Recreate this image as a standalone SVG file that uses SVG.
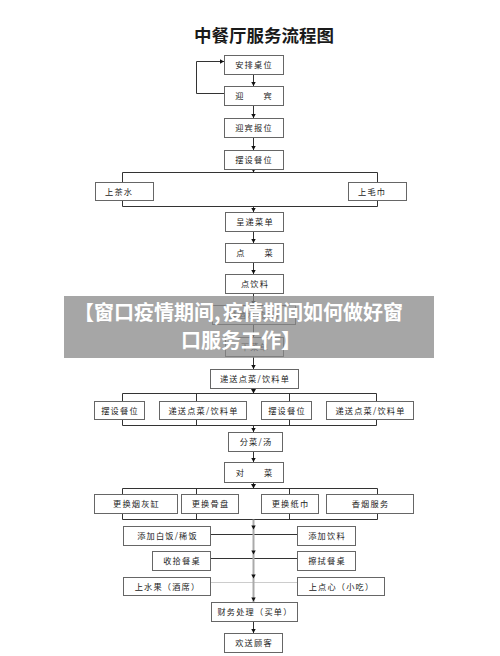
<svg xmlns="http://www.w3.org/2000/svg" width="500" height="656" viewBox="0 0 500 656">
<defs>
<style>
.b{fill:#fff;stroke:#666;stroke-width:1}
.t{font-family:"Noto Sans CJK SC","Noto Sans",sans-serif;font-size:8.2px;letter-spacing:1.2px;fill:#222;text-anchor:middle}
.ts{text-anchor:start}
.c{fill:none;stroke:#333;stroke-width:1}
.cl{fill:none;stroke:#ccc;stroke-width:1}
.ah{fill:#111}
.ov{font-family:"Noto Sans CJK SC","Noto Sans",sans-serif;font-size:20px;font-weight:700;fill:#fff}
</style>
<marker id="a" markerUnits="userSpaceOnUse" markerWidth="5" markerHeight="5" refX="4.5" refY="2.5" orient="auto">
<path d="M0,0 L4.5,2.5 L0,5 z" fill="#111"/>
</marker>
</defs>
<rect width="500" height="656" fill="#fff"/>
<text x="264" y="42" font-family="Noto Sans CJK SC,sans-serif" font-size="17.5" font-weight="700" fill="#1a1a1a" text-anchor="middle">中餐厅服务流程图</text>

<g id="connectors">
<path class="c" d="M253.5,74 V86" marker-end="url(#a)"/>
<path class="c" d="M224,93.5 H196.5 V61.5 H224" marker-end="url(#a)"/>
<path class="c" d="M253.5,105 V118" marker-end="url(#a)"/>
<path class="c" d="M253.5,137 V150" marker-end="url(#a)"/>
<path class="c" d="M253.5,169 V172.5" marker-end="url(#a)"/>
<path class="c" d="M122.5,182 V172.5 H377.5 V182"/>
<path class="c" d="M122.5,200 V206.5 H377.5 V200"/>
<path class="c" d="M253.5,206.5 V212" marker-end="url(#a)"/>
<path class="c" d="M253.5,231 V243" marker-end="url(#a)"/>
<path class="c" d="M253.5,262 V274" marker-end="url(#a)"/>
<path class="c" d="M253.5,293 V305" marker-end="url(#a)"/>
<path class="c" d="M253.5,324 V337" marker-end="url(#a)"/>
<path class="c" d="M253.5,356 V369" marker-end="url(#a)"/>
<path class="c" d="M253.5,388 V393.5" marker-end="url(#a)"/>
<path class="c" d="M122.5,401 V393.5 H376.5 V401 M196.5,393.5 V401 M289.5,393.5 V401"/>
<path class="c" d="M122.5,419 V425.5 H376.5 V419 M196.5,419 V425.5 M289.5,419 V425.5"/>
<path class="c" d="M253.5,425.5 V432" marker-end="url(#a)"/>
<path class="c" d="M253.5,451 V462" marker-end="url(#a)"/>
<path class="c" d="M253.5,482 V488.5" marker-end="url(#a)"/>
<path class="c" d="M122.5,494 V488.5 H377.5 V494 M196.5,488.5 V494 M289.5,488.5 V494"/>
<path class="c" d="M122.5,513 V519.5 H377.5 V513 M196.5,513 V519.5 M289.5,513 V519.5"/>
<path class="c" d="M210,534.5 H297"/>
<path class="c" d="M210,558.5 H297"/>
<path class="cl" d="M210,582.5 H297"/>
<path d="M253.5,519.5 V602" fill="none" stroke="#aaa" stroke-width="2"/>
<path class="ah" d="M251.3,525.5 H255.7 L253.5,529.5 z"/>
<path class="ah" d="M251.3,550.5 H255.7 L253.5,554.5 z"/>
<path class="ah" d="M251.3,574.5 H255.7 L253.5,578.5 z"/>
<path class="ah" d="M251.3,597.5 H255.7 L253.5,601.5 z"/>
<path class="c" d="M253.5,621 V633" marker-end="url(#a)"/>
</g>

<g id="n1"><rect class="b" x="224.5" y="55.5" width="59" height="19"/><text class="t" x="254" y="68">安排桌位</text></g>
<g id="n2"><rect class="b" x="224.5" y="86.5" width="59" height="19"/><text class="t" x="254" y="99">迎　　宾</text></g>
<g id="n3"><rect class="b" x="224.5" y="118.5" width="59" height="19"/><text class="t" x="254" y="131">迎宾报位</text></g>
<g id="n4"><rect class="b" x="224.5" y="150.5" width="59" height="19"/><text class="t" x="254" y="163">摆设餐位</text></g>
<g id="n5"><rect class="b" x="95.5" y="182.5" width="58" height="18"/><text class="t ts" x="105" y="194.5">上茶水</text></g>
<g id="n6"><rect class="b" x="348.5" y="182.5" width="58" height="18"/><text class="t ts" x="358" y="194.5">上毛巾</text></g>
<g id="n7"><rect class="b" x="225.5" y="212.5" width="58" height="19"/><text class="t" x="255" y="225">呈递菜单</text></g>
<g id="n8"><rect class="b" x="225.5" y="243.5" width="58" height="19"/><text class="t" x="255" y="256">点　　菜</text></g>
<g id="n9"><rect class="b" x="225.5" y="274.5" width="58" height="19"/><text class="t" x="255" y="287">点饮料</text></g>
<g id="n10"><rect class="b" x="212.5" y="305.5" width="83" height="19"/><text class="t" x="254" y="318">斟酒水/饮料</text></g>
<g id="n11"><rect class="b" x="225.5" y="337.5" width="58" height="19"/><text class="t" x="255" y="350">下菜单</text></g>
<g id="n12"><rect class="b" x="210.5" y="369.5" width="88" height="19"/><text class="t" x="255" y="382">递送点菜/饮料单</text></g>
<g id="n13"><rect class="b" x="94.5" y="401.5" width="50" height="18"/><text class="t" x="120" y="413.5">摆设餐位</text></g>
<g id="n14"><rect class="b" x="159.5" y="401.5" width="87" height="18"/><text class="t" x="203.5" y="413.5">递送点菜/饮料单</text></g>
<g id="n15"><rect class="b" x="261.5" y="401.5" width="50" height="18"/><text class="t" x="287" y="413.5">摆设餐位</text></g>
<g id="n16"><rect class="b" x="326.5" y="401.5" width="87" height="18"/><text class="t" x="370.5" y="413.5">递送点菜/饮料单</text></g>
<g id="n17"><rect class="b" x="228.5" y="432.5" width="54" height="19"/><text class="t" x="256" y="445">分菜/汤</text></g>
<g id="n18"><rect class="b" x="224.5" y="462.5" width="59" height="20"/><text class="t" x="254.5" y="475.5">对　　菜</text></g>
<g id="n19"><rect class="b" x="94.5" y="494.5" width="83" height="19"/><text class="t" x="136.5" y="507">更换烟灰缸</text></g>
<g id="n20"><rect class="b" x="181.5" y="494.5" width="57" height="19"/><text class="t" x="210.5" y="507">更换骨盘</text></g>
<g id="n21"><rect class="b" x="261.5" y="494.5" width="57" height="19"/><text class="t" x="290.5" y="507">更换纸巾</text></g>
<g id="n22"><rect class="b" x="326.5" y="494.5" width="87" height="19"/><text class="t" x="370.5" y="507">香烟服务</text></g>
<g id="n23"><rect class="b" x="123.5" y="526.5" width="87" height="19"/><text class="t" x="167.5" y="539">添加白饭/稀饭</text></g>
<g id="n24"><rect class="b" x="297.5" y="526.5" width="58" height="19"/><text class="t" x="327" y="539">添加饮料</text></g>
<g id="n25"><rect class="b" x="152.5" y="551.5" width="58" height="19"/><text class="t" x="182" y="564">收拾餐桌</text></g>
<g id="n26"><rect class="b" x="297.5" y="551.5" width="58" height="19"/><text class="t" x="327" y="564">擦拭餐桌</text></g>
<g id="n27"><rect class="b" x="123.5" y="577.5" width="87" height="18"/><text class="t" x="167.5" y="589.5">上水果（酒席）</text></g>
<g id="n28"><rect class="b" x="297.5" y="577.5" width="87" height="18"/><text class="t" x="341.5" y="589.5">上点心（小吃）</text></g>
<g id="n29"><rect class="b" x="211.5" y="602.5" width="86" height="19"/><text class="t" x="255" y="615">财务处理（买单）</text></g>
<g id="n30"><rect class="b" x="224.5" y="633.5" width="58" height="19"/><text class="t" x="254" y="646">欢送顾客</text></g>

<g id="overlay">
<rect x="64" y="296" width="370" height="62" fill="#888" opacity="0.75"/>
<text class="ov" x="74" y="319.5">【窗口疫情期间,<tspan x="223">疫情期间如何做好窗</tspan></text>
<text class="ov" x="181" y="347.5">口服务工作】</text>
</g>
</svg>
